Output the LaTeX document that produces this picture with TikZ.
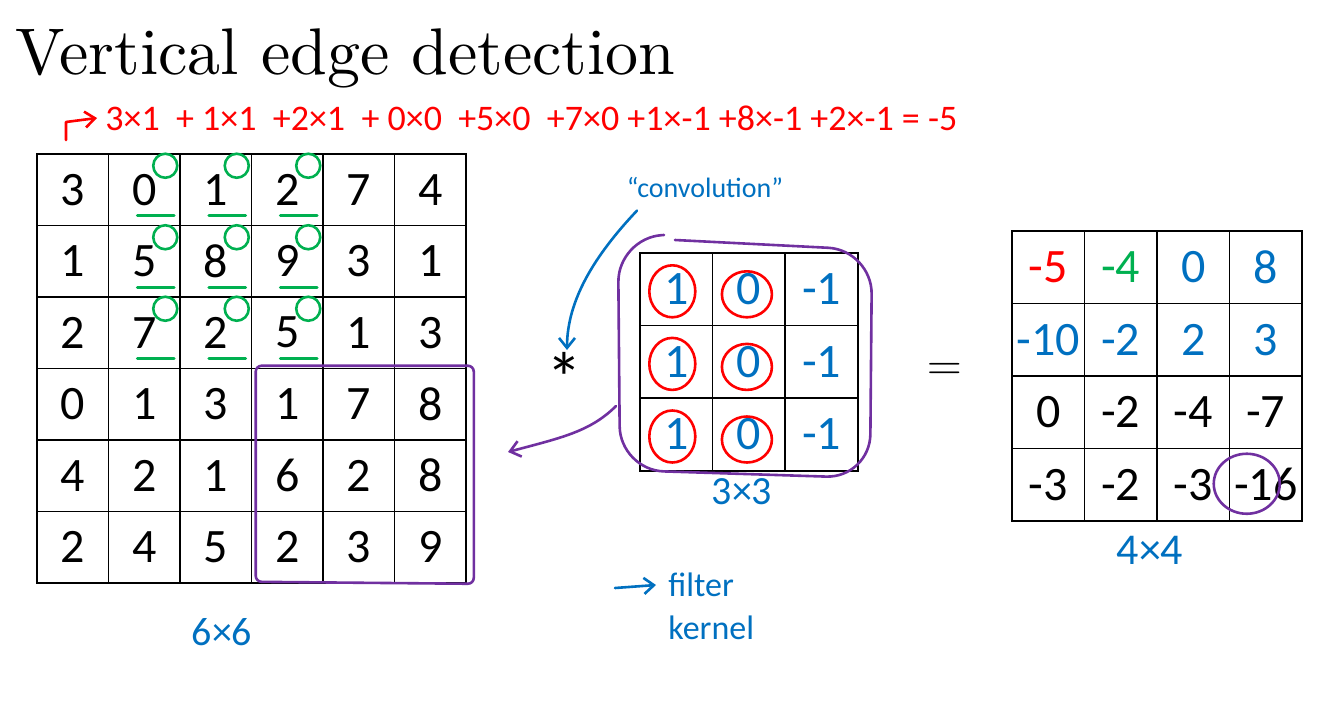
\documentclass[tikz,border=0pt]{standalone}
\usepackage{fontspec}
\setsansfont{Carlito}
\usepackage{tikz}
\usetikzlibrary{arrows.meta}
\definecolor{penred}{RGB}{255,0,0}
\definecolor{pengreen}{RGB}{0,176,80}
\definecolor{penblue}{RGB}{0,112,192}
\definecolor{penpurple}{RGB}{112,48,160}
\tikzstyle{cell} = [rectangle, draw, line width=0.8pt, minimum size=35.75pt,
    inner sep=0pt, font=\sffamily\fontsize{24}{24}\selectfont]
\tikzstyle{kcell} = [cell, minimum size=36.3pt]

\begin{document}
\begin{tikzpicture}[
x=0.5pt, y=-0.5pt,
pen/.style = {line width=1.3pt, line cap=round, line join=round},
hand/.style = {font=\sffamily\fontsize{#1}{#1}\selectfont, inner sep=0pt},
tip/.style = {-{Straight Barb[length=5pt, width=8pt]}}
                        ]
\useasboundingbox (0,0) rectangle (1332,717);

% title
\node [anchor=base west, inner sep=0pt] (title) at (15,75)
  {\scalebox{3.3}{\fontsize{10}{12}\selectfont Vertical edge detection}};

% worked sum for the first entry
\node [hand=18, text=penred, anchor=west] (sum) at (105,118)
  {3×1 \ + 1×1 \ +2×1 \ + 0×0 \ +5×0 \ +7×0 +1×-1 +8×-1 +2×-1 = -5};
\coordinate (hook) at (66,140);
\draw [pen, penred, tip] (hook) -- (66,122) -- ([xshift=-4pt]sum.west);

% 6x6 input
\foreach \row [count=\r from 0] in {{3,0,1,2,7,4},{1,5,8,9,3,1},{2,7,2,5,1,3},
                                    {0,1,3,1,7,8},{4,2,1,6,2,8},{2,4,5,2,3,9}}
  \foreach \v [count=\c from 0] in \row
    \node [cell] (in-\r-\c) at ({37+71.5*(\c+0.5)}, {154+71.5*(\r+0.5)}) {\v};

% green marks on the first window
\foreach \r in {0,1,2}
  \foreach \c in {1,2,3} {
    \draw [pen, pengreen] ([shift={(21,-24)}]in-\r-\c.center) ellipse [x radius=6pt, y radius=6pt];
    \draw [pen, pengreen] ([shift={(-7,26)}]in-\r-\c.center) -- ([shift={(30,26)}]in-\r-\c.center);
  }

% last window
\draw [pen, penpurple, rounded corners=3pt] ([shift={(5,-2)}]in-3-3.north west) -- ([shift={(7,-2)}]in-3-5.north east)
  -- ([shift={(7,0)}]in-5-5.south east) -- ([shift={(5,-2)}]in-5-3.south west) -- cycle;

% convolution sign
\node [hand=36] (star) at (564,378) {*};
\node [hand=14, text=penblue] (conv) at (705,188) {“convolution”};
\draw [pen, penblue, tip] ([xshift=-34pt,yshift=-6pt]conv.south) .. controls (595,255) and (567,300) .. (567,350);

% 3x3 filter
\foreach \c/\v in {0/1, 1/0, 2/-1}
  \foreach \r in {0,1,2}
    \node [kcell, text=penblue] (ker-\r-\c) at ({640+72.6*(\c+0.5)}, {253+72.6*(\r+0.5)}) {\v};
\foreach \r in {0,1,2} {
  \draw [pen, penred] ([shift={(-4,2)}]ker-\r-0.center) ellipse [x radius=11.5pt, y radius=13pt];
  \draw [pen, penred] ([shift={(-2,5)}]ker-\r-1.center) ellipse [x radius=12.5pt, y radius=11.5pt];
}
\draw [pen, penpurple, rounded corners=22pt] (675,240) -- (872,250) -- (870,478) -- (620,470)
  -- (618,238) -- (664,235);
\coordinate (slide) at (508,452);
\draw [pen, penpurple, tip] (616,406) .. controls (590,432) and (560,438) .. (slide);
\node [hand=20, text=penblue] (k-size) at (742,492) {3×3};

% filter / kernel
\node [hand=17, text=penblue, anchor=west] (filter) at (668,585) {filter};
\node [hand=17, text=penblue, anchor=west] (kernel) at (668,628) {kernel};
\coordinate (fstart) at (615,588);
\draw [pen, penblue, tip] (fstart) -- ([xshift=-6pt]filter.west);

% equals
\node [inner sep=0pt, font=\fontsize{24}{24}\selectfont] (eq) at (945,372) {=};

% 4x4 output
\foreach \row [count=\r from 0] in {{-5/penred,-4/pengreen,0/penblue,8/penblue},
                                    {-10/penblue,-2/penblue,2/penblue,3/penblue},
                                    {0/black,-2/black,-4/black,-7/black},
                                    {-3/black,-2/black,-3/black,-16/black}}
  \foreach \v/\col [count=\c from 0] in \row
    \node [kcell, text=\col] (out-\r-\c) at ({1012+72.5*(\c+0.5)}, {231+72.5*(\r+0.5)}) {\v};
\draw [pen, penpurple] ([shift={(-19,-1)}]out-3-3.center) ellipse [x radius=16.5pt, y radius=15pt];

% sizes
\node [hand=20, text=penblue] (in-size) at (222,632) {6×6};
\node [hand=22, text=penblue] (out-size) at (1150,550) {4×4};
\end{tikzpicture}
\end{document}
